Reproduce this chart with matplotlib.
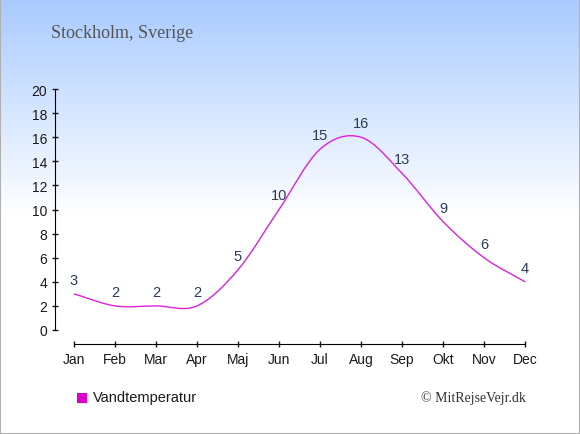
import numpy as np
import matplotlib
matplotlib.use("Agg")
from matplotlib import pyplot as plt
from matplotlib.path import Path
from matplotlib.patches import PathPatch, Rectangle
from matplotlib.colors import LinearSegmentedColormap

months = ["Jan", "Feb", "Mar", "Apr", "Maj", "Jun", "Jul", "Aug", "Sep", "Okt", "Nov", "Dec"]
water_temp = [3, 2, 2, 2, 5, 10, 15, 16, 13, 9, 6, 4]
yticks = [0, 2, 4, 6, 8, 10, 12, 14, 16, 18, 20]

line_col = "#dd22dd"
lab_col = "#2a3a5a"

fig = plt.figure(figsize=(5.8, 4.35), dpi=100)

# background gradient
bg = fig.add_axes([0, 0, 1, 1])
cmap = LinearSegmentedColormap.from_list("bg", [(0, "#a9cbff"), (0.5, "#ffffff"), (1, "#ffffff")])
grad = np.linspace(0, 1, 256).reshape(-1, 1)
bg.imshow(grad, aspect="auto", cmap=cmap, extent=[0, 1, 0, 1], origin="upper")
bg.add_patch(Rectangle((0, 0), 1, 1, transform=bg.transAxes, fill=False,
                       edgecolor="#b0b0b0", lw=1.5))
bg.set_xlim(0, 1); bg.set_ylim(0, 1)
bg.axis("off")

ax = fig.add_axes([55 / 580, (435 - 331) / 435, 472 / 580, 241 / 435])
ax.patch.set_alpha(0)
x = np.arange(len(months))
y = np.array(water_temp, dtype=float)

# smooth curve through points (Catmull-Rom as bezier segments)
m = np.zeros_like(y)
m[1:-1] = (y[2:] - y[:-2]) / 2
m[0] = y[1] - y[0]
m[-1] = y[-1] - y[-2]
verts = [(x[0], y[0])]
codes = [Path.MOVETO]
for i in range(len(x) - 1):
    verts += [(x[i] + 1 / 3, y[i] + m[i] / 3), (x[i + 1] - 1 / 3, y[i + 1] - m[i + 1] / 3), (x[i + 1], y[i + 1])]
    codes += [Path.CURVE4] * 3
ax.add_patch(PathPatch(Path(verts, codes), fill=False, edgecolor=line_col, lw=1))

for xi, yi in zip(x, water_temp):
    ax.annotate(str(yi), (xi, yi), xytext=(0, 14), textcoords="offset pixels",
                ha="center", va="center", fontsize=10.5, color=lab_col, family="Liberation Sans")

ax.set_xlim(-19 / 41, 11 + 2 / 41)
ax.set_ylim(0, 20)
ax.set_xticks(x)
ax.set_xticklabels(months)
ax.set_yticks(yticks)
for s in ["top", "right"]:
    ax.spines[s].set_visible(False)
ax.spines["bottom"].set_position(("outward", 10))
ax.spines["bottom"].set_bounds(0, 11)
ax.spines["left"].set_bounds(0, 20)
ax.tick_params(direction="inout", length=5, width=1, labelsize=10, colors="#1a1a1a", pad=3)
for lbl in ax.get_xticklabels() + ax.get_yticklabels():
    lbl.set_family("Liberation Sans")

fig.text(51 / 580, 1 - 33 / 435, "Stockholm, Sverige", fontsize=13, color="#555555",
         family="Liberation Serif", va="center", ha="left")

# legend
fig.patches.append(Rectangle((78 / 580, 1 - 405 / 435), 10 / 580, 10 / 435,
                             transform=fig.transFigure, facecolor="#e4e4e4", edgecolor="none"))
fig.patches.append(Rectangle((77 / 580, 1 - 404 / 435), 10 / 580, 10 / 435,
                             transform=fig.transFigure, facecolor="#dd00cc", edgecolor="none"))
fig.text(93 / 580, 1 - 398 / 435, "Vandtemperatur", fontsize=10.5, color="#1a1a1a",
         family="Liberation Sans", va="center", ha="left")
fig.text(526 / 580, 1 - 398 / 435, "\u00a9 MitRejseVejr.dk", fontsize=10, color="#333333",
         family="Liberation Serif", va="center", ha="right")

fig.savefig("out.png", dpi=100)
